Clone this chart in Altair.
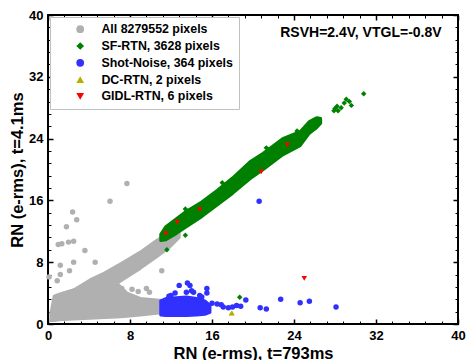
import altair as alt
import pandas as pd

# ---------------- data ----------------
# dense gray cloud, diagonal arm (x, lower y, upper y)
grayA_x = [0.3, 0.6, 1.0, 2.5, 4.1, 5.5, 6.7, 7.35, 9.0, 10.6, 11.9, 12.8]
grayA_lo = [0.45, 0.5, 0.55, 1.6, 2.8, 4.0, 5.25, 5.8, 7.2, 8.7, 10.0, 11.2]
grayA_hi = [1.5, 3.6, 3.8, 4.4, 5.7, 6.6, 7.5, 8.0, 9.3, 10.8, 11.9, 12.6]
# dense gray cloud, horizontal arm
grayB_x = [0.3, 1.0, 2.5, 4.1, 5.5, 6.7, 7.7, 9.0, 10.6, 11.3]
grayB_lo = [0.45, 0.55, 0.65, 0.75, 0.85, 0.9, 1.0, 1.15, 1.4, 1.5]
grayB_hi = [1.5, 3.8, 4.4, 5.0, 5.0, 5.3, 4.0, 3.3, 3.1, 3.0]
# dense blue cluster
blue_x = [11.0, 11.5, 12.5, 13.5, 14.5, 15.3, 15.8]
blue_lo = [1.15, 1.1, 1.1, 1.1, 1.15, 1.25, 1.5]
blue_hi = [3.0, 3.3, 3.4, 3.5, 3.3, 3.0, 2.4]
# dense green band
green_x = [11.0, 11.5, 12.5, 13.5, 15.0, 16.5, 18.0, 19.7, 21.0, 22.9, 24.6, 25.5, 26.2, 26.6]
green_lo = [10.8, 10.9, 11.7, 12.6, 13.9, 15.4, 16.9, 18.8, 20.0, 21.9, 23.1, 24.7, 25.4, 26.0]
green_hi = [11.6, 12.6, 13.6, 14.6, 15.8, 17.3, 18.9, 21.0, 22.1, 24.0, 24.9, 26.2, 26.7, 26.6]

# individual pixels
gray_px = [6.05, 7.7, 2.4, 2.8, 1.8, 1.0, 1.35, 2.0, 2.5, 3.6, 2.5, 4.6, 1.2, 2.1, 0.1, 0.9,
           1.2, 7.2, 8.2, 9.6, 9.9, 11.1, 8.8]
gray_py = [15.9, 18.2, 14.5, 13.5, 12.6, 10.3, 10.4, 10.6, 10.7, 9.5, 8.0, 8.0, 7.6, 6.9, 6.1, 5.6,
           6.4, 4.6, 4.5, 4.6, 4.1, 6.9, 4.2]
blue_px = [12.8, 13.6, 13.85, 15.5, 15.5, 12.4, 13.5, 14.0, 14.2, 12.0, 14.8, 11.8, 15.0,
           16.0, 16.5, 16.9, 17.1, 17.6, 18.0, 18.4, 18.8, 19.3, 20.7, 21.3, 22.7, 24.6, 25.5, 28.1, 20.6]
blue_py = [5.0, 5.3, 5.0, 4.6, 4.0, 4.0, 4.1, 4.3, 4.1, 3.7, 3.7, 3.6, 3.5,
           2.7, 2.6, 2.5, 2.2, 2.1, 2.2, 2.4, 2.3, 3.1, 2.1, 1.95, 3.2, 2.75, 2.95, 2.2, 15.9]
green_px = [11.6, 13.4, 18.7, 13.4, 21.3, 26.4, 28.0, 28.3, 28.6, 28.2, 27.9, 29.1, 29.4, 29.6,
            30.8, 25.9, 26.2, 17.0, 24.3, 28.9]
green_py = [9.6, 11.5, 3.45, 14.9, 22.8, 26.5, 27.9, 27.6, 28.0, 28.2, 27.6, 29.1, 28.8, 28.3,
            29.8, 26.3, 26.0, 18.3, 25.0, 28.6]
dc_px = [17.9, 17.95]
dc_py = [1.4, 1.45]
gidl_px = [11.5, 12.6, 14.8, 20.8, 23.35, 25.0]
gidl_py = [11.7, 13.2, 14.8, 19.7, 23.2, 5.9]

categories = ["All 8279552 pixels", "SF-RTN, 3628 pixels", "Shot-Noise, 364 pixels",
              "DC-RTN, 2 pixels", "GIDL-RTN, 6 pixels"]
cat_colors = ["#b0b0b0", "#008000", "#3030ff", "#b4b000", "#ff0000"]
cat_shapes = ["circle", "diamond", "circle", "triangle-up", "triangle-down"]

x_major = [0, 8, 16, 24, 32, 40]
y_major = [0, 8, 16, 24, 32, 40]
minor = [1.6, 3.2, 4.8, 6.4, 9.6, 11.2, 12.8, 14.4, 17.6, 19.2, 20.8, 22.4,
         25.6, 27.2, 28.8, 30.4, 33.6, 35.2, 36.8, 38.4]

note_text = ["RSVH=2.4V, VTGL=-0.8V"]
note_x = [38.4]
note_y = [37.7]

# ---------------- build ----------------
W, H = 410, 309
FONT = "Liberation Sans"

xs = alt.Scale(domain=[0, 40], nice=False, zero=False)
ys = alt.Scale(domain=[0, 40], nice=False, zero=False)


def lab_axis(orient, title):
    return alt.Axis(orient=orient, values=x_major, ticks=False, tickSize=0, domain=False, grid=False,
                    labelFont=FONT, labelFontWeight="bold", labelFontSize=13, labelColor="black",
                    labelPadding=5, labelFlush=False, format="d",
                    title=title, titleFont=FONT, titleFontWeight="bold", titleFontSize=16.5,
                    titleColor="black", titlePadding=3)


def tick_axis(orient, offset, values, size, width):
    return alt.Axis(orient=orient, offset=offset, values=values, tickSize=size, tickWidth=width,
                    tickColor="black", labels=False, domain=False, grid=False, title=None)


def band_df(xv, lo, hi):
    return pd.DataFrame({"x": xv, "lo": lo, "hi": hi})


def band(df, color, xaxis, yaxis):
    return alt.Chart(df).mark_area(color=color, stroke=color, strokeWidth=3,
                                   strokeJoin="round", opacity=1).encode(
        x=alt.X("x:Q", scale=xs, axis=xaxis),
        y=alt.Y("lo:Q", scale=ys, axis=yaxis),
        y2="hi:Q",
    )


grayA = band(band_df(grayA_x, grayA_lo, grayA_hi), cat_colors[0],
             lab_axis("bottom", "RN (e-rms), t=793ms"), lab_axis("left", "RN (e-rms), t=4.1ms"))
grayB = band(band_df(grayB_x, grayB_lo, grayB_hi), cat_colors[0],
             tick_axis("top", -H, x_major, 5, 1.5), tick_axis("right", -W, y_major, 5, 1.5))
blueA = band(band_df(blue_x, blue_lo, blue_hi), cat_colors[2],
             tick_axis("top", -H, minor, 3, 1), tick_axis("right", -W, minor, 3, 1))
greenA = band(band_df(green_x, green_lo, green_hi), cat_colors[1],
              tick_axis("bottom", -H, x_major, 5, 1.5), tick_axis("left", -W, y_major, 5, 1.5))

rows = []
for c, xv, yv in [(categories[0], gray_px, gray_py), (categories[2], blue_px, blue_py),
                  (categories[1], green_px, green_py), (categories[3], dc_px, dc_py),
                  (categories[4], gidl_px, gidl_py)]:
    for a, b in zip(xv, yv):
        rows.append({"x": a, "y": b, "cat": c})
pts_df = pd.DataFrame(rows)

leg = alt.Legend(orient="none", legendX=2, legendY=2, title=None)

points = alt.Chart(pts_df).mark_point(filled=True, size=30, opacity=1).encode(
    x=alt.X("x:Q", scale=xs, axis=tick_axis("bottom", -H, minor, 3, 1)),
    y=alt.Y("y:Q", scale=ys, axis=tick_axis("left", -W, minor, 3, 1)),
    color=alt.Color("cat:N", scale=alt.Scale(domain=categories, range=cat_colors), legend=leg),
    shape=alt.Shape("cat:N", scale=alt.Scale(domain=categories, range=cat_shapes), legend=leg),
)

note = alt.Chart(pd.DataFrame({"x": note_x, "y": note_y, "t": note_text})).mark_text(
    font=FONT, fontWeight="bold", fontSize=14, align="right", baseline="middle", color="black"
).encode(
    x=alt.X("x:Q", scale=xs, axis=None),
    y=alt.Y("y:Q", scale=ys, axis=None),
    text="t:N",
)

chart = alt.layer(grayA, grayB, blueA, greenA, points, note).resolve_axis(
    x="independent", y="independent"
).properties(
    width=W, height=H,
    autosize=alt.AutoSizeParams(type="none"),
    padding={"left": 48, "top": 15, "right": 10, "bottom": 36},
).configure_view(stroke="black", strokeWidth=2).configure_legend(
    labelFont=FONT, labelFontWeight="bold", labelFontSize=12.4, labelColor="black",
    symbolSize=60, symbolStrokeWidth=0, strokeColor="#c0c0c0", fillColor="white",
    padding=6, rowPadding=3.8, symbolOffset=18, labelOffset=15, labelLimit=300,
    cornerRadius=0,
)

chart.save("out.html", embed_options={"renderer": "svg", "actions": False})
